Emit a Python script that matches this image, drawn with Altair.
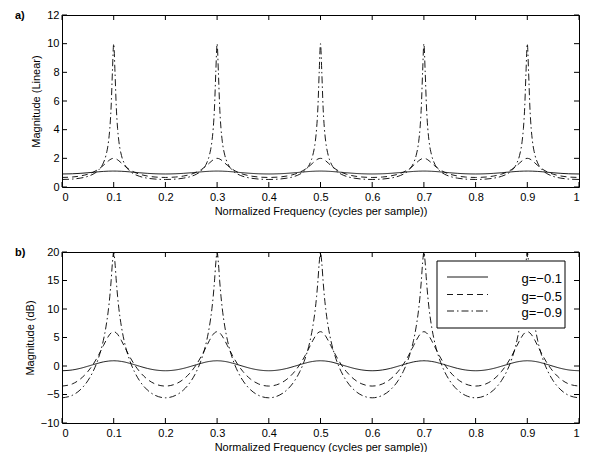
import altair as alt
import pandas as pd

FONT = "Liberation Sans"

# Normalized frequency samples (denser near the peaks)
freq = [
    0.0, 0.02, 0.035, 0.05, 0.06, 0.07, 0.08, 0.085, 0.09, 0.0925, 0.095, 0.0975, 0.1, 0.1025, 0.105, 0.1075, 0.11, 0.115, 0.12, 0.13, 0.14, 0.15, 0.165, 0.18,
    0.2, 0.22, 0.235, 0.25, 0.26, 0.27, 0.28, 0.285, 0.29, 0.2925, 0.295, 0.2975, 0.3, 0.3025, 0.305, 0.3075, 0.31, 0.315, 0.32, 0.33, 0.34, 0.35, 0.365, 0.38,
    0.4, 0.42, 0.435, 0.45, 0.46, 0.47, 0.48, 0.485, 0.49, 0.4925, 0.495, 0.4975, 0.5, 0.5025, 0.505, 0.5075, 0.51, 0.515, 0.52, 0.53, 0.54, 0.55, 0.565, 0.58,
    0.6, 0.62, 0.635, 0.65, 0.66, 0.67, 0.68, 0.685, 0.69, 0.6925, 0.695, 0.6975, 0.7, 0.7025, 0.705, 0.7075, 0.71, 0.715, 0.72, 0.73, 0.74, 0.75, 0.765, 0.78,
    0.8, 0.82, 0.835, 0.85, 0.86, 0.87, 0.88, 0.885, 0.89, 0.8925, 0.895, 0.8975, 0.9, 0.9025, 0.905, 0.9075, 0.91, 0.915, 0.92, 0.93, 0.94, 0.95, 0.965, 0.98,
    1.0,
]

# Panel a) linear magnitude
lin_g01 = [
    0.909, 0.924, 0.953, 0.995, 1.027, 1.059, 1.086, 1.096, 1.104, 1.107, 1.109, 1.111, 1.111, 1.111, 1.109, 1.107, 1.104, 1.096, 1.086, 1.059, 1.027, 0.995, 0.953, 0.924,
    0.909, 0.924, 0.953, 0.995, 1.027, 1.059, 1.086, 1.096, 1.104, 1.107, 1.109, 1.111, 1.111, 1.111, 1.109, 1.107, 1.104, 1.096, 1.086, 1.059, 1.027, 0.995, 0.953, 0.924,
    0.909, 0.924, 0.953, 0.995, 1.027, 1.059, 1.086, 1.096, 1.104, 1.107, 1.109, 1.111, 1.111, 1.111, 1.109, 1.107, 1.104, 1.096, 1.086, 1.059, 1.027, 0.995, 0.953, 0.924,
    0.909, 0.924, 0.953, 0.995, 1.027, 1.059, 1.086, 1.096, 1.104, 1.107, 1.109, 1.111, 1.111, 1.111, 1.109, 1.107, 1.104, 1.096, 1.086, 1.059, 1.027, 0.995, 0.953, 0.924,
    0.909, 0.924, 0.953, 0.995, 1.027, 1.059, 1.086, 1.096, 1.104, 1.107, 1.109, 1.111, 1.111, 1.111, 1.109, 1.107, 1.104, 1.096, 1.086, 1.059, 1.027, 0.995, 0.953, 0.924,
    0.909,
]
lin_g05 = [
    0.667, 0.697, 0.766, 0.894, 1.031, 1.229, 1.506, 1.669, 1.829, 1.898, 1.953, 1.988, 2.0, 1.988, 1.953, 1.898, 1.829, 1.669, 1.506, 1.229, 1.031, 0.894, 0.766, 0.697,
    0.667, 0.697, 0.766, 0.894, 1.031, 1.229, 1.506, 1.669, 1.829, 1.898, 1.953, 1.988, 2.0, 1.988, 1.953, 1.898, 1.829, 1.669, 1.506, 1.229, 1.031, 0.894, 0.766, 0.697,
    0.667, 0.697, 0.766, 0.894, 1.031, 1.229, 1.506, 1.669, 1.829, 1.898, 1.953, 1.988, 2.0, 1.988, 1.953, 1.898, 1.829, 1.669, 1.506, 1.229, 1.031, 0.894, 0.766, 0.697,
    0.667, 0.697, 0.766, 0.894, 1.031, 1.229, 1.506, 1.669, 1.829, 1.898, 1.953, 1.988, 2.0, 1.988, 1.953, 1.898, 1.829, 1.669, 1.506, 1.229, 1.031, 0.894, 0.766, 0.697,
    0.667, 0.697, 0.766, 0.894, 1.031, 1.229, 1.506, 1.669, 1.829, 1.898, 1.953, 1.988, 2.0, 1.988, 1.953, 1.898, 1.829, 1.669, 1.506, 1.229, 1.031, 0.894, 0.766, 0.697,
    0.667,
]
lin_g09 = [
    0.526, 0.553, 0.617, 0.743, 0.893, 1.153, 1.681, 2.202, 3.193, 4.092, 5.576, 8.02, 10.0, 8.02, 5.576, 4.092, 3.193, 2.202, 1.681, 1.153, 0.893, 0.743, 0.617, 0.553,
    0.526, 0.553, 0.617, 0.743, 0.893, 1.153, 1.681, 2.202, 3.193, 4.092, 5.576, 8.02, 10.0, 8.02, 5.576, 4.092, 3.193, 2.202, 1.681, 1.153, 0.893, 0.743, 0.617, 0.553,
    0.526, 0.553, 0.617, 0.743, 0.893, 1.153, 1.681, 2.202, 3.193, 4.092, 5.576, 8.02, 10.0, 8.02, 5.576, 4.092, 3.193, 2.202, 1.681, 1.153, 0.893, 0.743, 0.617, 0.553,
    0.526, 0.553, 0.617, 0.743, 0.893, 1.153, 1.681, 2.202, 3.193, 4.092, 5.576, 8.02, 10.0, 8.02, 5.576, 4.092, 3.193, 2.202, 1.681, 1.153, 0.893, 0.743, 0.617, 0.553,
    0.526, 0.553, 0.617, 0.743, 0.893, 1.153, 1.681, 2.202, 3.193, 4.092, 5.576, 8.02, 10.0, 8.02, 5.576, 4.092, 3.193, 2.202, 1.681, 1.153, 0.893, 0.743, 0.617, 0.553,
    0.526,
]

# Panel b) magnitude in dB
db_g01 = [
    -0.83, -0.69, -0.42, -0.04, 0.23, 0.49, 0.72, 0.8, 0.86, 0.89, 0.9, 0.91, 0.92, 0.91, 0.9, 0.89, 0.86, 0.8, 0.72, 0.49, 0.23, -0.04, -0.42, -0.69,
    -0.83, -0.69, -0.42, -0.04, 0.23, 0.49, 0.72, 0.8, 0.86, 0.89, 0.9, 0.91, 0.92, 0.91, 0.9, 0.89, 0.86, 0.8, 0.72, 0.49, 0.23, -0.04, -0.42, -0.69,
    -0.83, -0.69, -0.42, -0.04, 0.23, 0.49, 0.72, 0.8, 0.86, 0.89, 0.9, 0.91, 0.92, 0.91, 0.9, 0.89, 0.86, 0.8, 0.72, 0.49, 0.23, -0.04, -0.42, -0.69,
    -0.83, -0.69, -0.42, -0.04, 0.23, 0.49, 0.72, 0.8, 0.86, 0.89, 0.9, 0.91, 0.92, 0.91, 0.9, 0.89, 0.86, 0.8, 0.72, 0.49, 0.23, -0.04, -0.42, -0.69,
    -0.83, -0.69, -0.42, -0.04, 0.23, 0.49, 0.72, 0.8, 0.86, 0.89, 0.9, 0.91, 0.92, 0.91, 0.9, 0.89, 0.86, 0.8, 0.72, 0.49, 0.23, -0.04, -0.42, -0.69,
    -0.83,
]
db_g05 = [
    -3.52, -3.14, -2.32, -0.97, 0.26, 1.79, 3.56, 4.45, 5.24, 5.57, 5.81, 5.97, 6.02, 5.97, 5.81, 5.57, 5.24, 4.45, 3.56, 1.79, 0.26, -0.97, -2.32, -3.14,
    -3.52, -3.14, -2.32, -0.97, 0.26, 1.79, 3.56, 4.45, 5.24, 5.57, 5.81, 5.97, 6.02, 5.97, 5.81, 5.57, 5.24, 4.45, 3.56, 1.79, 0.26, -0.97, -2.32, -3.14,
    -3.52, -3.14, -2.32, -0.97, 0.26, 1.79, 3.56, 4.45, 5.24, 5.57, 5.81, 5.97, 6.02, 5.97, 5.81, 5.57, 5.24, 4.45, 3.56, 1.79, 0.26, -0.97, -2.32, -3.14,
    -3.52, -3.14, -2.32, -0.97, 0.26, 1.79, 3.56, 4.45, 5.24, 5.57, 5.81, 5.97, 6.02, 5.97, 5.81, 5.57, 5.24, 4.45, 3.56, 1.79, 0.26, -0.97, -2.32, -3.14,
    -3.52, -3.14, -2.32, -0.97, 0.26, 1.79, 3.56, 4.45, 5.24, 5.57, 5.81, 5.97, 6.02, 5.97, 5.81, 5.57, 5.24, 4.45, 3.56, 1.79, 0.26, -0.97, -2.32, -3.14,
    -3.52,
]
db_g09 = [
    -5.58, -5.14, -4.2, -2.58, -0.98, 1.24, 4.51, 6.86, 10.08, 12.24, 14.93, 18.08, 20.0, 18.08, 14.93, 12.24, 10.08, 6.86, 4.51, 1.24, -0.98, -2.58, -4.2, -5.14,
    -5.58, -5.14, -4.2, -2.58, -0.98, 1.24, 4.51, 6.86, 10.08, 12.24, 14.93, 18.08, 20.0, 18.08, 14.93, 12.24, 10.08, 6.86, 4.51, 1.24, -0.98, -2.58, -4.2, -5.14,
    -5.58, -5.14, -4.2, -2.58, -0.98, 1.24, 4.51, 6.86, 10.08, 12.24, 14.93, 18.08, 20.0, 18.08, 14.93, 12.24, 10.08, 6.86, 4.51, 1.24, -0.98, -2.58, -4.2, -5.14,
    -5.58, -5.14, -4.2, -2.58, -0.98, 1.24, 4.51, 6.86, 10.08, 12.24, 14.93, 18.08, 20.0, 18.08, 14.93, 12.24, 10.08, 6.86, 4.51, 1.24, -0.98, -2.58, -4.2, -5.14,
    -5.58, -5.14, -4.2, -2.58, -0.98, 1.24, 4.51, 6.86, 10.08, 12.24, 14.93, 18.08, 20.0, 18.08, 14.93, 12.24, 10.08, 6.86, 4.51, 1.24, -0.98, -2.58, -4.2, -5.14,
    -5.58,
]

series = ["g=\u22120.1", "g=\u22120.5", "g=\u22120.9"]
dashes = [[1, 0], [6, 4], [7, 3, 1.5, 3]]

x_ticks = [0, 0.1, 0.2, 0.3, 0.4, 0.5, 0.6, 0.7, 0.8, 0.9, 1]
ya_ticks = [0, 2, 4, 6, 8, 10, 12]
yb_ticks = [-10, -5, 0, 5, 10, 15, 20]

W = 517
HA = 172
HB = 171
TICK = 5
XTITLE = "Normalized Frequency (cycles per sample))"


def long_df(a, b, c):
    return pd.DataFrame({
        "f": freq * 3,
        "mag": a + b + c,
        "series": [series[0]] * len(freq) + [series[1]] * len(freq) + [series[2]] * len(freq),
    })


def panel(df, ydom, yticks, ytitle, tag, H, with_legend):
    xs = alt.Scale(domain=[0, 1], nice=False, zero=False)
    ys = alt.Scale(domain=ydom, nice=False, zero=False)
    xax = alt.Axis(values=x_ticks, format=".1~f", title=XTITLE,
                   ticks=False, grid=False, domain=False,
                   labelPadding=4, titlePadding=3)
    yax = alt.Axis(values=yticks, format="d", title=ytitle,
                   ticks=False, grid=False, domain=False,
                   labelPadding=3, titlePadding=5)
    lines = alt.Chart(df).mark_line(color="black", strokeWidth=0.9,
                                    interpolate="monotone", clip=True).encode(
        x=alt.X("f:Q", scale=xs, axis=xax),
        y=alt.Y("mag:Q", scale=ys, axis=yax),
        strokeDash=alt.StrokeDash("series:N",
                                  scale=alt.Scale(domain=series, range=dashes),
                                  legend=None),
    )
    xt = pd.DataFrame({"f": x_ticks})
    yt = pd.DataFrame({"mag": yticks})
    xb = alt.Chart(xt).mark_rule(color="black", strokeWidth=1).encode(
        x=alt.X("f:Q", scale=xs, axis=xax), y=alt.value(H), y2=alt.value(H - TICK))
    xtp = alt.Chart(xt).mark_rule(color="black", strokeWidth=1).encode(
        x=alt.X("f:Q", scale=xs, axis=xax), y=alt.value(0), y2=alt.value(TICK))
    yl = alt.Chart(yt).mark_rule(color="black", strokeWidth=1).encode(
        y=alt.Y("mag:Q", scale=ys, axis=yax), x=alt.value(0), x2=alt.value(TICK))
    yr = alt.Chart(yt).mark_rule(color="black", strokeWidth=1).encode(
        y=alt.Y("mag:Q", scale=ys, axis=yax), x=alt.value(W), x2=alt.value(W - TICK))
    lab = alt.Chart(pd.DataFrame({"t": [tag]})).mark_text(
        align="left", baseline="middle", fontWeight="bold", fontSize=11,
        font=FONT, color="black").encode(
        x=alt.value(-47), y=alt.value(1), text="t:N")
    layers = [lines, xb, xtp, yl, yr, lab]
    if with_legend:
        box = alt.Chart(pd.DataFrame({"k": [0]})).mark_rect(
            fill="white", stroke="black", strokeWidth=1).encode(
            x=alt.value(375), x2=alt.value(503), y=alt.value(9), y2=alt.value(76))
        layers.append(box)
        line_y = [25, 42.5, 59]
        text_y = [31, 48.5, 65]
        for i, s in enumerate(series):
            d = pd.DataFrame({"s": [s]})
            layers.append(alt.Chart(d).mark_rule(
                color="black", strokeWidth=0.9, strokeDash=dashes[i]).encode(
                x=alt.value(385), x2=alt.value(426), y=alt.value(line_y[i])))
            layers.append(alt.Chart(d).mark_text(
                align="right", baseline="alphabetic", fontSize=13, font=FONT,
                color="black").encode(
                x=alt.value(500), y=alt.value(text_y[i]), text="s:N"))
    return alt.layer(*layers).properties(width=W, height=H)


pa = panel(long_df(lin_g01, lin_g05, lin_g09), [0, 12], ya_ticks,
           "Magnitude (Linear)", "a)", HA, False)
pb = panel(long_df(db_g01, db_g05, db_g09), [-10, 20], yb_ticks,
           "Magnitude (dB)", "b)", HB, True)

chart = alt.vconcat(pa, pb, spacing=28).properties(
    padding={"left": 6, "top": 0, "right": 0, "bottom": 0}
).configure_view(
    stroke="black", strokeWidth=1
).configure_axis(
    labelFont=FONT, titleFont=FONT, labelFontSize=11, titleFontSize=11,
    labelColor="black", titleColor="black", titleFontWeight="normal"
)

chart.save("out.html", embed_options={"renderer": "svg", "actions": False})
